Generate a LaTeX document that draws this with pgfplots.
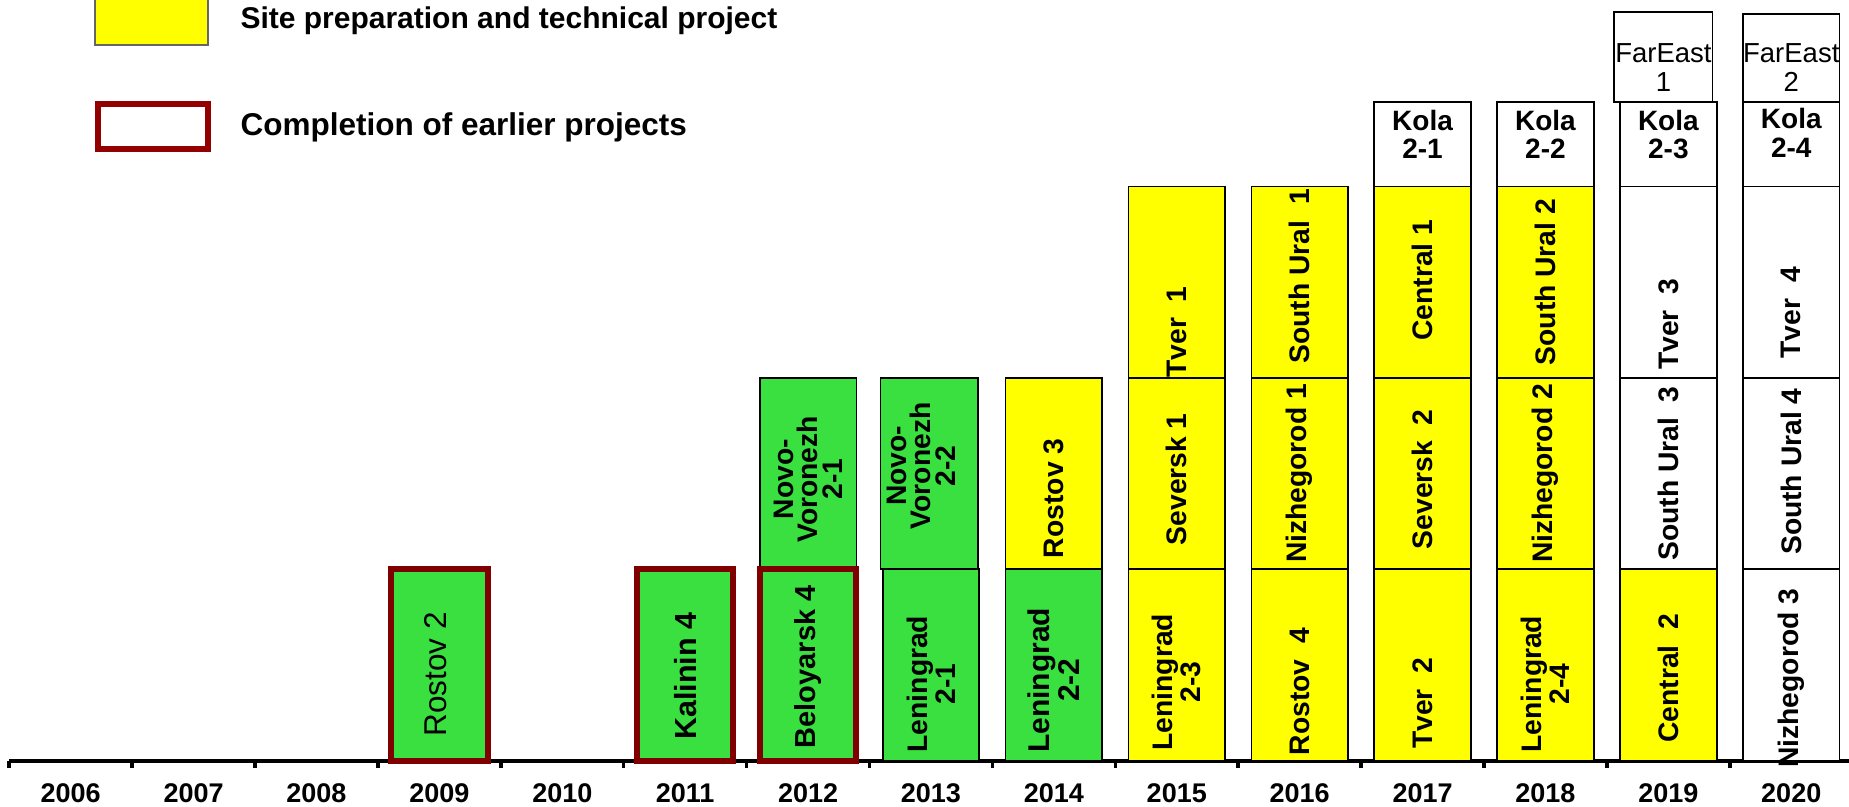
\documentclass[border=0pt]{standalone}
\usepackage{pgfplots}
\pgfplotsset{compat=1.18}
\usepackage{fontspec}
\setmainfont{Liberation Sans}
\definecolor{mygreen}{RGB}{57,224,64}
\definecolor{myyellow}{RGB}{255,255,0}
\definecolor{mydarkred}{RGB}{128,0,0}
\tikzset{
  lab/.style={font=\bfseries\fontsize{11.3}{9.8}\selectfont, align=center, inner sep=0pt},
  rlab/.style={lab, rotate=90},
  gbox/.style={fill=mygreen, draw=black, line width=0.7pt},
  ybox/.style={fill=myyellow, draw=black, line width=0.7pt},
  wbox/.style={fill=white, draw=black, line width=0.7pt},
  rbox/.style={fill=mygreen, draw=mydarkred, line width=2.4pt},
}
% box: x-left, x-right, y-bottom, y-top, style
\newcommand{\bx}[5]{\addplot[#5, forget plot] coordinates {(#1,#3) (#2,#3) (#2,#4) (#1,#4)} -- cycle;}
\begin{document}
\begin{tikzpicture}
\begin{axis}[
  x=49.16pt, y=76.56pt,
  xmin=-0.5, xmax=14.47, ymin=0, ymax=3.974,
  clip=false,
  axis x line*=bottom, axis y line=none,
  axis line style={line width=1.6pt, black},
  xtick={0,...,14},
  xticklabels={2006,2007,2008,2009,2010,2011,2012,2013,2014,2015,2016,2017,2018,2019,2020},
  major tick length=0pt,
  minor xtick={-0.5,0.5,...,13.5},
  minor tick length=3pt,
  tick align=outside,
  tick style={line width=1.4pt, black},
  xticklabel style={font=\bfseries\fontsize{10.8}{12}\selectfont, anchor=center, yshift=-13pt},
  ytick=\empty,
  legend style={at={(axis description cs:0.0461,1.0084)}, anchor=north west,
    draw=none, fill=none, inner sep=0pt, outer sep=0pt,
    row sep=22pt, column sep=12pt,
    nodes={inner sep=0pt}},
  legend cell align=left,
]
\addlegendimage{legend image code/.code={\draw[fill=myyellow, draw=black!60, line width=0.8pt] (0pt,-10.1pt) rectangle (45.3pt,10.1pt);}}
\addlegendentry{\bfseries\fontsize{12}{14}\selectfont Site preparation and technical project}
\addlegendimage{legend image code/.code={\draw[fill=white, draw=mydarkred!85!red, line width=2.4pt] (1.2pt,-8.95pt) rectangle (45pt,8.95pt);}}
\addlegendentry{\bfseries\fontsize{12.6}{14}\selectfont Completion of earlier projects}

% 2009
\bx{2.607}{3.393}{0}{1}{rbox}
% 2011
\bx{4.607}{5.393}{0}{1}{rbox}
% 2012
\bx{5.607}{6.393}{1}{2}{gbox}
\bx{5.607}{6.393}{0}{1}{rbox}
% 2013
\bx{6.607}{7.393}{0}{1}{gbox}
\bx{6.59}{7.38}{1}{2}{gbox}
% 2014
\bx{7.607}{8.393}{0}{1}{gbox}
\bx{7.607}{8.393}{1}{2}{ybox}
% 2015
\bx{8.607}{9.393}{0}{1}{ybox}
\bx{8.607}{9.393}{1}{2}{ybox}
\bx{8.607}{9.393}{2}{3}{ybox}
% 2016
\bx{9.607}{10.393}{0}{1}{ybox}
\bx{9.607}{10.393}{1}{2}{ybox}
\bx{9.607}{10.393}{2}{3}{ybox}
% 2017
\bx{10.607}{11.393}{0}{1}{ybox}
\bx{10.607}{11.393}{1}{2}{ybox}
\bx{10.607}{11.393}{2}{3}{ybox}
\bx{10.607}{11.393}{3}{3.44}{wbox}
% 2018
\bx{11.607}{12.393}{0}{1}{ybox}
\bx{11.607}{12.393}{1}{2}{ybox}
\bx{11.607}{12.393}{2}{3}{ybox}
\bx{11.607}{12.393}{3}{3.44}{wbox}
% 2019
\bx{12.607}{13.393}{0}{1}{ybox}
\bx{12.607}{13.393}{1}{2}{wbox}
\bx{12.607}{13.393}{2}{3}{wbox}
\bx{12.607}{13.393}{3}{3.44}{wbox}
\bx{12.56}{13.36}{3.44}{3.91}{wbox}
% 2020
\bx{13.607}{14.393}{0}{1}{wbox}
\bx{13.607}{14.393}{1}{2}{wbox}
\bx{13.607}{14.393}{2}{3}{wbox}
\bx{13.607}{14.393}{3}{3.44}{wbox}
\bx{13.607}{14.393}{3.44}{3.90}{wbox}

% labels
\node[rlab, font=\fontsize{12.6}{12}\selectfont] at (axis cs:2.97,0.45) {Rostov 2};
\node[rlab, font=\bfseries\fontsize{12.2}{11}\selectfont] at (axis cs:5,0.44) {Kalinin 4};
\node[rlab, font=\bfseries\fontsize{11.6}{11}\selectfont] at (axis cs:6,0.49) {Beloyarsk 4};
\node[rlab] at (axis cs:6,1.47) {Novo-\\Voronezh\\2-1};
\node[rlab] at (axis cs:7,0.40) {Leningrad\\2-1};
\node[rlab] at (axis cs:6.92,1.54) {Novo-\\Voronezh\\2-2};
\node[rlab, font=\bfseries\fontsize{12}{10.4}\selectfont] at (axis cs:8,0.42) {Leningrad\\2-2};
\node[rlab] at (axis cs:8,1.37) {Rostov 3};
\node[rlab] at (axis cs:9,0.41) {Leningrad\\2-3};
\node[rlab] at (axis cs:9,1.47) {Seversk 1};
\node[rlab] at (axis cs:9,2.24) {Tver~~1};
\node[rlab] at (axis cs:10,0.36) {Rostov~~4};
\node[rlab] at (axis cs:10,1.50) {Nizhegorod 1};
\node[rlab] at (axis cs:10,2.53) {South Ural~~1};
\node[rlab] at (axis cs:11,0.30) {Tver~~2};
\node[rlab] at (axis cs:11,1.47) {Seversk~~2};
\node[rlab] at (axis cs:11,2.51) {Central 1};
\node[lab, font=\bfseries\fontsize{11.2}{11.3}\selectfont] at (axis cs:11,3.27) {Kola\\2-1};
\node[rlab] at (axis cs:12,0.40) {Leningrad\\2-4};
\node[rlab] at (axis cs:12,1.50) {Nizhegorod 2};
\node[rlab] at (axis cs:12,2.50) {South Ural 2};
\node[lab, font=\bfseries\fontsize{11.2}{11.3}\selectfont] at (axis cs:12,3.27) {Kola\\2-2};
\node[rlab] at (axis cs:13,0.43) {Central~~2};
\node[rlab] at (axis cs:13,1.50) {South Ural~~3};
\node[rlab] at (axis cs:13,2.28) {Tver~~3};
\node[lab, font=\bfseries\fontsize{11.2}{11.3}\selectfont] at (axis cs:13,3.27) {Kola\\2-3};
\node[lab, font=\fontsize{11}{11.8}\selectfont] at (axis cs:12.96,3.62) {FarEast\\1};
\node[rlab] at (axis cs:14,0.43) {Nizhegorod 3};
\node[rlab] at (axis cs:14,1.51) {South Ural 4};
\node[rlab] at (axis cs:14,2.34) {Tver~~4};
\node[lab, font=\bfseries\fontsize{11.2}{11.3}\selectfont] at (axis cs:14,3.28) {Kola\\2-4};
\node[lab, font=\fontsize{11}{11.8}\selectfont] at (axis cs:14,3.62) {FarEast\\2};
\end{axis}
\pgfresetboundingbox
\path[use as bounding box] ([xshift=-3.7pt, yshift=-18.2pt]current axis.south west) rectangle (current axis.north east);
\end{tikzpicture}
\end{document}
